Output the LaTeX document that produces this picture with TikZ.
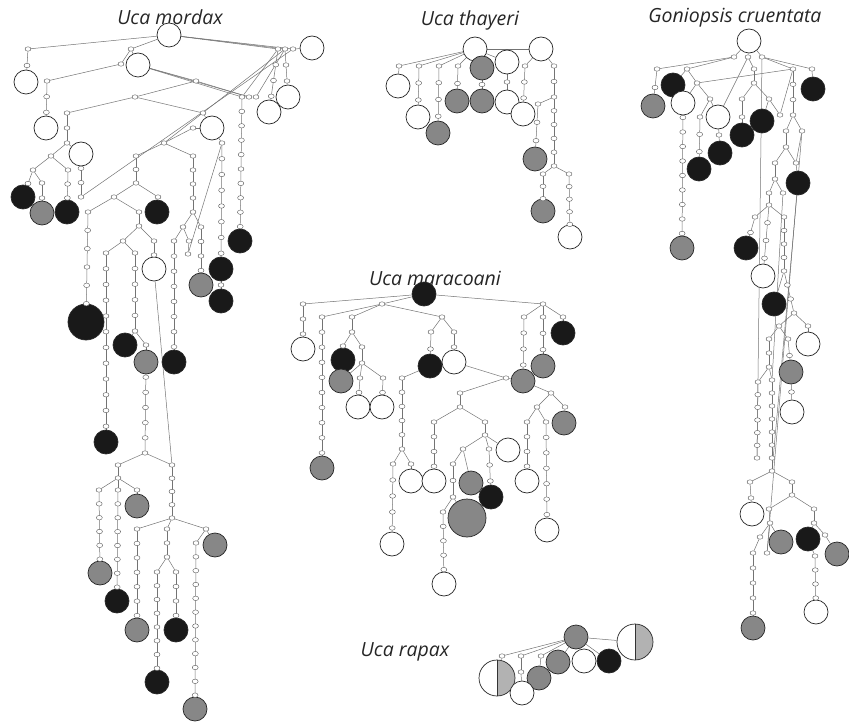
\documentclass[tikz,border=0pt]{standalone}
\usepackage{fontspec}
\newfontfamily\labelfont{Open Sans}
\usetikzlibrary{calc, shapes.geometric, backgrounds}

% a run of median vectors between two haplotypes
\newcommand{\mvchain}[4]{% #1 name, #2 from, #3 to, #4 number of steps
  \begin{scope}[on background layer]
    \draw[link] (#2) -- (#3);
  \end{scope}
  \foreach \k in {1,...,#4}
    \node[mv] (#1-\k) at ($(#2)!{\k/(#4+1)}!(#3)$) {};
}

\begin{document}
\begin{tikzpicture}[
    x=1pt, y=-1pt,
    % Define styles for consistency
    hap/.style={circle, draw=black!85, line width=0.7pt, minimum size=24pt, inner sep=0pt},
    wt/.style={hap, fill=white},
    gy/.style={hap, fill=black!47},
    bk/.style={hap, fill=black!90},
    split/.style={wt, minimum size=36pt, path picture={
        \fill[black!30] (path picture bounding box.north) rectangle (path picture bounding box.south east);
        \draw[black!80, line width=0.6pt] (path picture bounding box.north) -- (path picture bounding box.south);}},
    mv/.style={ellipse, draw=black!65, fill=white, line width=0.4pt, minimum width=6pt, minimum height=4.5pt, inner sep=0pt},
    link/.style={draw=black!55, line width=0.5pt},
    title/.style={font=\labelfont\itshape\fontsize{19.5}{22}\selectfont, text=black!85}
]
    \useasboundingbox (0,0) rectangle (849,722);

    % ---------------------------------------------------------
    % 1. Uca mordax
    % ---------------------------------------------------------
    \node[title] (mo-t) at (170,17) {Uca mordax};

    \node[wt] (mo-1) at (169,35) {};
    \node[wt] (mo-2) at (312,48) {};
    \node[wt] (mo-3) at (138,65) {};
    \node[wt] (mo-4) at (26,82) {};
    \node[wt] (mo-5) at (46,128) {};
    \node[wt] (mo-6) at (288,97) {};
    \node[wt] (mo-7) at (269,112) {};
    \node[wt] (mo-8) at (212,128) {};
    \node[wt] (mo-9) at (81,154) {};
    \node[bk] (mo-10) at (23,197) {};
    \node[gy] (mo-11) at (42,213) {};
    \node[bk] (mo-12) at (67,212) {};
    \node[bk] (mo-13) at (157,212) {};
    \node[bk] (mo-14) at (240,241) {};
    \node[wt] (mo-15) at (154,269) {};
    \node[bk] (mo-16) at (221,269) {};
    \node[gy] (mo-17) at (201,285) {};
    \node[bk] (mo-18) at (221,301) {};
    \node[bk, minimum size=36pt] (mo-19) at (86,322) {};
    \node[bk] (mo-20) at (125,345) {};
    \node[gy] (mo-21) at (146,362) {};
    \node[bk] (mo-22) at (174,362) {};
    \node[bk] (mo-23) at (106,442) {};
    \node[gy] (mo-24) at (137,506) {};
    \node[gy] (mo-25) at (215,545) {};
    \node[gy] (mo-26) at (100,573) {};
    \node[bk] (mo-27) at (117,601) {};
    \node[gy] (mo-28) at (137,630) {};
    \node[bk] (mo-29) at (176,630) {};
    \node[bk] (mo-30) at (157,682) {};
    \node[gy] (mo-31) at (195,709) {};

    % branch points
    \foreach \n/\x/\y in {a/28/49, b/131/49, c/121/64, d/47/81, e1/278/49, e2/285/49, e3/293/49,
        f/81/197, g/164/143, h/242/97, hh2/249/97, hh3/256/97, i/196/81, j/135/97, k/67/113,
        l/67/143, m/203/113, n/193/128, o/222/143, p/51/156, q/33/170, r/68/170, t/42/183,
        u/136/156, v/193/156, w/136/183, x/114/197, y/158/197, z1/88/212, z2/139/212,
        aa/139/226, ab/123/241, ac/154/241, ae/106/253, af/135/253, ag/135/331, ah/146/345,
        ai/145/453, aj/172/465, ak/193/212, al/183/227, am/201/227, an/188/254, ao/174/241,
        ap/189/241, aq/118/465, ar/118/478, as/99/490, at/118/490, au/137/490, av/172/518,
        aw/137/529, ax/167/529, ay/206/529, az/167/557, ba/157/572, bb/176/572, bc/196/543}
        \node[mv] (mo-\n) at (\x,\y) {};

    \begin{scope}[on background layer]
    \foreach \a/\b in {1/a, 1/b, b/3, b/c, c/d, 1/e1, 1/e2, 1/e3, e3/2, 3/h, 3/hh2, hh3/e2,
        h/e1, 3/i, i/j, j/k, j/m, m/8, 8/n, n/g, 8/o, l/p, l/9, p/q, p/r, q/t, g/u, g/v,
        w/x, w/y, y/13, x/z1, x/z2, z2/aa, aa/ab, aa/ac, ab/ae, ab/af, ag/20, ag/ah, ah/21,
        ak/al, ak/am, al/ao, al/ap, ap/an, an/o, ai/aq, ai/aj, 15/aj, aq/ar, ar/as, ar/at,
        ar/au, au/24, av/aw, av/ax, av/ay, ay/25, ay/bc, az/ba, az/bb, f/e3, g/e2, i/hh2}
        \draw[link] (mo-\a) -- (mo-\b);
    \end{scope}

    \foreach \cn/\from/\to/\num in {1/a/4/1, 2/d/5/2, 3/e1/7/3, 4/e2/6/2, 5/h/14/9, 6/k/l/1,
        7/9/f/2, 8/q/10/1, 9/t/11/1, 10/r/12/2, 11/u/w/1, 12/v/ak/3, 13/z1/19/5, 14/ae/23/11,
        15/af/ag/4, 16/ac/15/1, 17/o/16/7, 18/16/18/1, 19/am/17/3, 20/ao/22/7, 21/21/ai/5,
        22/as/26/5, 23/at/27/7, 24/aj/av/3, 25/aw/28/6, 26/ax/az/1, 27/bb/29/3, 28/ba/30/7,
        29/bc/31/11}
        \mvchain{mo-c\cn}{mo-\from}{mo-\to}{\num};

    % ---------------------------------------------------------
    % 2. Uca thayeri
    % ---------------------------------------------------------
    \node[title] (th-t) at (470,20) {Uca thayeri};

    \node[wt] (th-1) at (475,49) {};
    \node[wt] (th-2) at (541,49) {};
    \node[wt] (th-4) at (507,62) {};
    \node[gy] (th-3) at (482,68) {};
    \node[wt] (th-5) at (398,86) {};
    \node[gy] (th-6) at (457,101) {};
    \node[gy] (th-7) at (482,101) {};
    \node[wt] (th-8) at (507,102) {};
    \node[wt] (th-9) at (418,117) {};
    \node[wt] (th-10) at (523,114) {};
    \node[gy] (th-11) at (438,133) {};
    \node[gy] (th-12) at (535,159) {};
    \node[gy] (th-13) at (543,211) {};
    \node[wt] (th-14) at (570,237) {};

    \foreach \n/\x/\y in {s1/399/66, s2/419/66, s3/439/66, s4/458/66, s5/525/66, s6/554/66,
        s6b/554/97, s7/554/166, s8/538/104, s9/543/174, s10/569/174}
        \node[mv] (th-\n) at (\x,\y) {};

    \begin{scope}[on background layer]
    \foreach \a/\b in {1/s1, 1/s2, 1/s3, 1/s4, 1/3, 1/4, 1/2, s1/5, 2/s5, 2/s6, s6b/s8,
        s7/s9, s7/s10}
        \draw[link] (th-\a) -- (th-\b);
    \end{scope}

    \foreach \cn/\from/\to/\num in {1/s2/9/2, 2/s3/11/3, 3/s4/6/1, 4/3/7/1, 5/4/8/1,
        6/s5/10/2, 7/s6/s6b/1, 8/s6b/s7/4, 9/s8/12/2, 10/s9/13/2, 11/s10/14/4}
        \mvchain{th-c\cn}{th-\from}{th-\to}{\num};

    % ---------------------------------------------------------
    % 3. Goniopsis cruentata
    % ---------------------------------------------------------
    \node[title] (go-t) at (735,18) {Goniopsis cruentata};

    \node[wt] (go-1) at (749,41) {};
    \node[bk] (go-2) at (673,85) {};
    \node[gy] (go-3) at (653,106) {};
    \node[wt] (go-4) at (683,103) {};
    \node[bk] (go-5) at (813,89) {};
    \node[wt] (go-6) at (718,117) {};
    \node[bk] (go-7) at (762,121) {};
    \node[bk] (go-8) at (742,135) {};
    \node[bk] (go-9) at (720,153) {};
    \node[bk] (go-10) at (699,169) {};
    \node[bk] (go-11) at (798,183) {};
    \node[gy] (go-12) at (682,248) {};
    \node[bk] (go-13) at (746,248) {};
    \node[wt] (go-14) at (763,276) {};
    \node[bk] (go-15) at (774,304) {};
    \node[wt] (go-16) at (808,344) {};
    \node[gy] (go-17) at (791,372) {};
    \node[wt] (go-18) at (792,412) {};
    \node[wt] (go-19) at (752,514) {};
    \node[gy] (go-20) at (781,542) {};
    \node[bk] (go-21) at (808,539) {};
    \node[gy] (go-22) at (837,554) {};
    \node[wt] (go-23) at (816,612) {};
    \node[gy] (go-24) at (753,628) {};

    \foreach \n/\x/\y in {A/734/57, B/748/57, C/762/57, D/657/69, E/687/69, F/697/83,
        G/710/99, H/700/117, I/754/69, J/754/83, K/742/99, L/769/99, M/780/115, N/793/69,
        O/812/69, P/793/115, Q/786/131, R/802/131, S/786/147, T/775/163, U/796/163,
        V/775/179, W/769/193, X/783/193, Y/769/205, Z/755/217, AA/784/217, AB/784/271,
        AC/794/313, AD/779/326, AE/808/326, AF/769/339, AG/788/339, AH/769/367, AI/758/382,
        AJ/772/380, AK/757/458, AL/772/471, AM/750/482, AN/792/482, AO/792/495, AP/769/509,
        AQ/814/509, AR/770/523, AS/760/537, AT/767/553, AU/753/553, AV/814/523, AW/825/535,
        AX/815/556}
        \node[mv] (go-\n) at (\x,\y) {};

    \begin{scope}[on background layer]
    \foreach \a/\b in {1/A, 1/B, 1/C, A/D, A/E, E/2, E/F, F/4, F/G, G/6, G/H, F/N, B/I,
        B/6, I/J, J/K, J/L, L/7, L/M, M/N, C/N, C/O, O/5, P/Q, P/R, Q/S, S/T, S/U, U/11,
        R/U, T/V, V/W, V/X, W/Y, Y/Z, Y/AA, AB/15, AC/AD, AC/AE, AE/16, AD/AF, AD/AG,
        AH/AI, AH/AJ, AL/AM, AL/AN, AN/AO, AO/AP, AO/AQ, AP/AR, AR/AS, AR/20, AR/AT, AS/AU,
        AQ/AV, AV/21, AV/AW, AW/22, 21/AX, C/AK, R/AT, X/AJ, 11/AL}
        \draw[link] (go-\a) -- (go-\b);
    \end{scope}

    \foreach \cn/\from/\to/\num in {1/D/3/1, 2/4/12/9, 3/H/10/2, 4/6/9/1, 5/K/8/1, 6/N/P/2,
        7/Z/13/1, 8/Y/14/3, 9/AA/AB/3, 10/AB/AC/2, 11/AF/AH/1, 12/AG/17/1, 13/17/18/1,
        14/AI/AK/5, 15/AJ/AL/6, 16/AM/19/1, 17/AU/24/4, 18/AX/23/3}
        \mvchain{go-c\cn}{go-\from}{go-\to}{\num};

    % ---------------------------------------------------------
    % 4. Uca maracoani
    % ---------------------------------------------------------
    \node[title] (ma-t) at (435,278) {Uca maracoani};

    \node[bk] (ma-1) at (424,294) {};
    \node[wt] (ma-2) at (303,349) {};
    \node[bk] (ma-3) at (343,360) {};
    \node[gy] (ma-4) at (341,381) {};
    \node[wt] (ma-5) at (358,407) {};
    \node[wt] (ma-6) at (382,407) {};
    \node[bk] (ma-7) at (430,366) {};
    \node[wt] (ma-8) at (454,362) {};
    \node[bk] (ma-9) at (563,333) {};
    \node[gy] (ma-10) at (543,366) {};
    \node[gy] (ma-11) at (523,381) {};
    \node[gy] (ma-12) at (564,423) {};
    \node[gy] (ma-13) at (322,468) {};
    \node[wt] (ma-14) at (508,450) {};
    \node[wt] (ma-15) at (411,481) {};
    \node[wt] (ma-16) at (434,481) {};
    \node[gy] (ma-17) at (471,483) {};
    \node[bk] (ma-18) at (491,497) {};
    \node[gy, minimum size=38pt] (ma-19) at (467,518) {};
    \node[wt] (ma-20) at (527,481) {};
    \node[wt] (ma-21) at (392,544) {};
    \node[wt] (ma-22) at (547,530) {};
    \node[wt] (ma-23) at (444,584) {};

    \foreach \n/\x/\y in {a/303/304, b/382/304, c/543/304, d/322/317, e/352/317, f/442/317,
        g/352/332, h/343/346, i/362/347, j/362/363, k/360/378, l/383/378, m/431/332,
        n/454/332, o/402/378, p/402/449, q/393/464, r/411/464, s/506/378, t/460/393,
        u/460/407, v/434/422, w/485/422, x/485/435, y/463/449, z/489/449, A/453/464,
        B/453/497, C/443/512, D/551/393, E/537/407, F/565/407, G/527/422, H/546/422,
        I/524/317, J/543/317, K/563/317}
        \node[mv] (ma-\n) at (\x,\y) {};

    \begin{scope}[on background layer]
    \foreach \a/\b in {1/a, 1/b, 1/c, b/d, b/e, b/f, e/g, g/h, h/3, g/i, i/j, j/4, j/k,
        j/l, f/m, f/n, 7/o, p/q, p/r, r/15, 8/s, s/11, s/t, t/u, u/v, u/w, w/x, x/y, x/z,
        x/14, y/A, y/17, B/19, B/C, 11/D, D/E, D/F, F/12, E/G, E/H, c/I, c/J, c/K, K/9}
        \draw[link] (ma-\a) -- (ma-\b);
    \end{scope}

    \foreach \cn/\from/\to/\num in {1/a/2/2, 2/d/13/9, 3/k/5/1, 4/l/6/1, 5/m/7/1, 6/n/8/1,
        7/o/p/4, 8/q/21/4, 9/v/16/3, 10/A/B/1, 11/C/23/4, 12/z/18/2, 13/G/20/3, 14/H/22/6,
        15/I/11/3, 16/J/10/2}
        \mvchain{ma-c\cn}{ma-\from}{ma-\to}{\num};

    % ---------------------------------------------------------
    % 5. Uca rapax
    % ---------------------------------------------------------
    \node[title] (ra-t) at (405,652) {Uca rapax};

    \node[gy] (ra-1) at (576,637) {};
    \node[split] (ra-2) at (635,642) {};
    \node[split] (ra-3) at (497,678) {};
    \node[gy] (ra-4) at (558,662) {};
    \node[wt] (ra-5) at (584,661) {};
    \node[bk] (ra-6) at (609,661) {};
    \node[gy] (ra-7) at (539,678) {};
    \node[wt] (ra-8) at (522,693) {};

    \foreach \n/\x/\y in {a/502/656, b/521/656, c/541/656, d/521/672}
        \node[mv] (ra-\n) at (\x,\y) {};

    \begin{scope}[on background layer]
    \foreach \a/\b in {1/a, 1/b, 1/c, 1/4, 1/5, 1/6, 1/2, a/3, b/d, d/8, c/7}
        \draw[link] (ra-\a) -- (ra-\b);
    \end{scope}
\end{tikzpicture}
\end{document}
